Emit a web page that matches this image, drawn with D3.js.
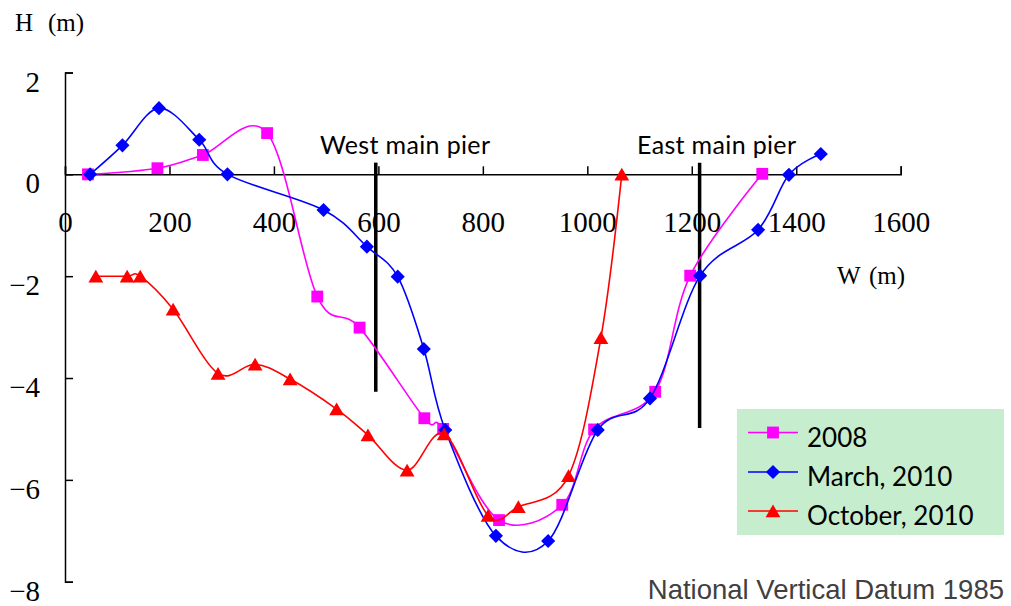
<!DOCTYPE html>
<html>
<head>
<meta charset="utf-8">
<script src="https://cdn.jsdelivr.net/npm/d3@7"></script>
<style>
  body { margin: 0; background: #fff; }
  svg { display: block; }
  .axis path, .axis line { stroke: #000; stroke-width: 1.5; }
  .axis text { font-family: "Liberation Serif", serif; font-size: 29px; fill: #000; }
  .title { font-family: "Liberation Serif", serif; font-size: 25px; }
</style>
</head>
<body>
<svg id="chart" width="1011" height="606"></svg>
<script>
// series data (W in m, H in m)
const w2008 = [44, 177, 264, 387, 483, 564, 688, 724, 831, 952, 1013, 1130, 1197, 1335];
const h2008 = [0, 0.12, 0.38, 0.81, -2.40, -3.01, -4.79, -5.0, -6.79, -6.49, -5.01, -4.27, -1.99, 0.01];

const wMarch = [48, 110, 180, 257, 311, 495, 578, 637, 687, 728, 825, 925, 1020, 1120, 1216, 1327, 1386, 1447];
const hMarch = [0, 0.57, 1.30, 0.68, 0, -0.70, -1.42, -2.01, -3.43, -5.02, -7.10, -7.20, -5.02, -4.40, -1.99, -1.09, -0.01, 0.40];

const wOct = [59, 119, 144, 207, 293, 364, 431, 520, 580, 655, 726, 810, 868, 964, 1026, 1066];
const hOct = [-2.0, -2.0, -2.0, -2.65, -3.91, -3.73, -4.02, -4.61, -5.12, -5.81, -5.10, -6.70, -6.53, -5.92, -3.21, 0];

const seriesNames = ['2008', 'March, 2010', 'October, 2010'];
const seriesColors = ['#ff00ff', '#0000ff', '#ff0000'];

const xTicks = [0, 200, 400, 600, 800, 1000, 1200, 1400, 1600];
const yTicks = [2, 0, -2, -4, -6, -8];

// pier markers: name, W position, top and bottom H
const pierNames = ['West main pier', 'East main pier'];
const pierW = [595, 1215];
const pierTop = [0.23, 0.23];
const pierBottom = [-4.27, -4.98];

const svg = d3.select('#chart');

const x = d3.scaleLinear().domain([0, 1600]).range([65, 900.7]);
const y = d3.scaleLinear().domain([-8, 2]).range([581.7, 72.5]);

// axes
svg.append('g')
    .attr('class', 'axis')
    .attr('transform', `translate(0,${y(0)})`)
    .call(d3.axisBottom(x).tickValues(xTicks).tickSize(-8).tickPadding(37).tickFormat(d3.format('d')));

const yAxis = svg.append('g')
    .attr('class', 'axis')
    .attr('transform', `translate(${x(0)},0)`)
    .call(d3.axisLeft(y).tickValues(yTicks).tickSize(-8).tickPadding(25).tickFormat(d3.format('d')));
yAxis.selectAll('text').attr('dy', '0.64em');
svg.selectAll('.axis').attr('font-size', null).attr('font-family', null);

// axis titles
svg.append('text').attr('class', 'title').attr('x', 15).attr('y', 31).text('H');
svg.append('text').attr('class', 'title').attr('x', 48).attr('y', 31).text('(m)');
svg.append('text').attr('class', 'title').attr('x', 837).attr('y', 284).text('W');
svg.append('text').attr('class', 'title').attr('x', 869).attr('y', 284).text('(m)');

// piers
pierNames.forEach((name, i) => {
    svg.append('line')
        .attr('x1', x(pierW[i])).attr('x2', x(pierW[i]))
        .attr('y1', y(pierTop[i])).attr('y2', y(pierBottom[i]))
        .attr('stroke', '#000').attr('stroke-width', 3.5);
});
const pierLabelX = [320, 637];
svg.selectAll('.pier-label')
    .data(pierNames)
    .join('text')
    .attr('class', 'pier-label')
    .attr('x', (d, i) => pierLabelX[i])
    .attr('y', 153.5)
    .style('font-family', 'Lato, sans-serif')
    .style('font-size', '25px')
    .attr('textLength', (d, i) => i === 0 ? 170 : 159)
    .text(d => d);

// series
const series = [
    { w: w2008, h: h2008, symbol: d3.symbolSquare, size: 140, rotate: 0 },
    { w: wMarch, h: hMarch, symbol: d3.symbolSquare, size: 100, rotate: 45 },
    { w: wOct, h: hOct, symbol: d3.symbolTriangle, size: 95, rotate: 0 }
];

const line = d3.line()
    .x(d => x(d[0]))
    .y(d => y(d[1]))
    .curve(d3.curveCardinal.tension(0));

series.forEach((s, i) => {
    const pts = s.w.map((w, j) => [w, s.h[j]]);
    svg.append('path')
        .datum(pts)
        .attr('d', line)
        .attr('fill', 'none')
        .attr('stroke', seriesColors[i])
        .attr('stroke-width', 1.6);

    svg.append('g')
        .selectAll('path')
        .data(pts)
        .join('path')
        .attr('d', d3.symbol().type(s.symbol).size(s.size))
        .attr('transform', d => `translate(${x(d[0])},${y(d[1]) + (s.symbol === d3.symbolTriangle ? 2 : 0)}) rotate(${s.rotate})`)
        .attr('fill', seriesColors[i]);
});

// legend
const legend = svg.append('g').attr('transform', 'translate(737,409)');
legend.append('rect').attr('width', 267).attr('height', 126).attr('fill', '#c6edcd');

const rowY = [23.5, 63, 102];
const textY = [38, 77, 116];
seriesNames.forEach((name, i) => {
    const s = series[i];
    legend.append('line')
        .attr('x1', 11).attr('x2', 61)
        .attr('y1', rowY[i]).attr('y2', rowY[i])
        .attr('stroke', seriesColors[i]).attr('stroke-width', 1.6);
    legend.append('path')
        .attr('d', d3.symbol().type(s.symbol).size(s.size))
        .attr('transform', `translate(36,${rowY[i] + (s.symbol === d3.symbolTriangle ? 2 : 0)}) rotate(${s.rotate})`)
        .attr('fill', seriesColors[i]);
    legend.append('text')
        .attr('x', 70).attr('y', textY[i])
        .style('font-family', 'Lato, sans-serif')
        .style('font-size', '26px')
        .text(name);
});

svg.append('text')
    .attr('x', 1004).attr('y', 599)
    .attr('text-anchor', 'end')
    .style('font-family', '"Liberation Sans", Arial, sans-serif')
    .style('font-size', '27.5px')
    .style('fill', '#404040')
    .text('National Vertical Datum 1985');
</script>
</body>
</html>
